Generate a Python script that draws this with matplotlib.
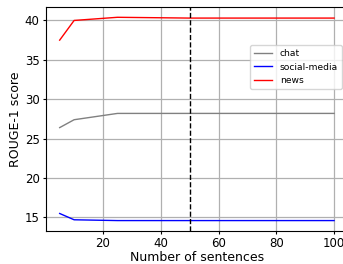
import numpy as np
import matplotlib
matplotlib.use("Agg")
import matplotlib.pyplot as plt

# number of sentences on the x axis
n_sentences = [5, 10, 25, 50, 100]

chat_scores = [26.4, 27.4, 28.2, 28.2, 28.2]
social_scores = [15.5, 14.7, 14.6, 14.6, 14.6]
news_scores = [37.5, 40.0, 40.4, 40.3, 40.3]

cutoff = 50

fig = plt.figure(figsize=(3.43, 2.64), dpi=100)
ax = fig.add_axes([0.134, 0.126, 0.88, 0.847])

ax.plot(n_sentences, chat_scores, color="grey", lw=1, label="chat")
ax.plot(n_sentences, social_scores, color="blue", lw=1, label="social-media")
ax.plot(n_sentences, news_scores, color="red", lw=1, label="news")
ax.axvline(cutoff, color="black", ls="--", lw=1)

ax.grid(True, color="#b0b0b0", lw=0.9)
ax.set_xticks([20, 40, 60, 80, 100])
ax.set_yticks([15, 20, 25, 30, 35, 40])
ax.tick_params(labelsize=8.5, length=2.5, pad=2.0)
ax.set_xlabel("Number of sentences", fontsize=9, labelpad=0.5)
ax.set_ylabel("ROUGE-1 score", fontsize=9, labelpad=2)

ax.legend(loc="upper right", bbox_to_anchor=(0.995, 0.85), fontsize=6.6)

fig.savefig("out.png", dpi=100)
